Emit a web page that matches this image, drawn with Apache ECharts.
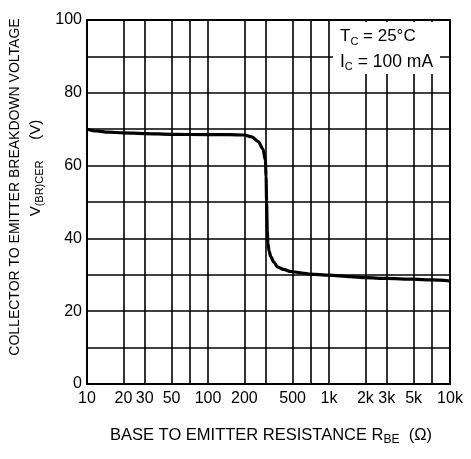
<!DOCTYPE html>
<html>
<head>
<meta charset="utf-8">
<script src="https://cdn.jsdelivr.net/npm/echarts@6/dist/echarts.min.js"></script>
<style>
  html, body { margin: 0; padding: 0; background: #fff; }
  #chart { width: 471px; height: 459px; }
</style>
</head>
<body>
<div id="chart"></div>
<script>
// base-emitter resistance (ohm) and breakdown voltage (V)
const resistance = [10, 12, 15, 20, 30, 50, 100, 150, 200, 230, 260, 285, 298, 302, 305, 309, 313, 320, 330, 350, 375, 420, 485, 600, 700, 1000, 1500, 2000, 3000, 5000, 7000, 10000]
const voltage = [70.0, 69.5, 69.2, 69.0, 68.8, 68.6, 68.5, 68.5, 68.4, 67.9, 66.6, 64.5, 61.5, 57, 50, 42, 38.6, 36.5, 35, 33.5, 32.2, 31.5, 30.9, 30.5, 30.2, 29.9, 29.5, 29.2, 29.0, 28.8, 28.6, 28.3]

// x grid lines and labels
const xGridValues = [10, 20, 30, 50, 70, 100, 200, 300, 500, 700, 1000, 2000, 3000, 5000, 7000, 10000]
const xLabelValues = [10, 20, 30, 50, 100, 200, 500, 1000, 2000, 3000, 5000, 10000]
const yLabelValues = [0, 20, 40, 60, 80, 100]

const font = 'Liberation Sans, Arial, Helvetica, sans-serif'

const chart = echarts.init(document.getElementById('chart'))

const points = resistance.map((r, i) => [r, voltage[i]])

let option = {
  animation: false,
  backgroundColor: '#fff',
  grid: {
    left: 87,
    right: 21,
    top: 20,
    bottom: 75,
    show: true,
    borderColor: '#000',
    borderWidth: 2,
  },
  xAxis: {
    type: 'log',
    logBase: 10,
    min: 10,
    max: 10000,
    axisLine: { show: false },
    axisTick: { show: false, customValues: xGridValues },
    splitLine: { show: true, lineStyle: { color: '#000', width: 1.6 } },
    axisLabel: {
      customValues: xLabelValues,
      color: '#000',
      fontFamily: font,
      fontSize: 16,
      margin: 7,
      formatter: (v) => (v >= 1000 ? v / 1000 + 'k' : String(v)),
    },
  },
  yAxis: {
    type: 'value',
    min: 0,
    max: 100,
    interval: 10,
    axisLine: { show: false },
    axisTick: { show: false },
    splitLine: { show: true, lineStyle: { color: '#000', width: 1.6 } },
    axisLabel: {
      color: '#000',
      fontFamily: font,
      fontSize: 16,
      margin: 5,
      formatter: (v) => (yLabelValues.indexOf(v) >= 0 ? String(v) : ''),
    },
  },
  graphic: [
    // box with the test conditions
    {
      type: 'rect',
      z: 100,
      shape: { x: 333, y: 22, width: 107, height: 52 },
      style: { fill: '#fff' },
    },
    {
      type: 'text',
      z: 101,
      left: 340,
      top: 28,
      style: {
        text: '{a|T}{s|C}{a| = 25°C}',
        fill: '#000',
        rich: {
          a: { fontFamily: font, fontSize: 17, lineHeight: 19, verticalAlign: 'top' },
          s: { fontFamily: font, fontSize: 11, verticalAlign: 'bottom' },
        },
      },
    },
    {
      type: 'text',
      z: 101,
      left: 340,
      top: 53,
      style: {
        text: '{a|I}{s|C}{a| = 100 mA}',
        fill: '#000',
        rich: {
          a: { fontFamily: font, fontSize: 17.5, lineHeight: 19, verticalAlign: 'top' },
          s: { fontFamily: font, fontSize: 11, verticalAlign: 'bottom' },
        },
      },
    },
    // y axis title, two lines
    {
      type: 'text',
      x: 15,
      y: 187,
      rotation: Math.PI / 2,
      style: {
        text: 'COLLECTOR TO EMITTER BREAKDOWN VOLTAGE',
        fill: '#000',
        font: '14px ' + font,
        align: 'center',
        verticalAlign: 'middle',
      },
    },
    {
      type: 'text',
      x: 37,
      y: 168,
      rotation: Math.PI / 2,
      style: {
        text: '{a|V}{s|(BR)CER}{a|     (V)}',
        fill: '#000',
        align: 'center',
        verticalAlign: 'middle',
        rich: {
          a: { fontFamily: font, fontSize: 15, lineHeight: 17, verticalAlign: 'top' },
          s: { fontFamily: font, fontSize: 11, verticalAlign: 'bottom' },
        },
      },
    },
    // x axis title
    {
      type: 'text',
      x: 271,
      y: 436,
      style: {
        text: '{a|BASE TO EMITTER RESISTANCE R}{s|BE}{a|  (Ω)}',
        fill: '#000',
        align: 'center',
        verticalAlign: 'middle',
        rich: {
          a: { fontFamily: font, fontSize: 16.5, lineHeight: 19, verticalAlign: 'top' },
          s: { fontFamily: font, fontSize: 12, verticalAlign: 'bottom' },
        },
      },
    },
  ],
  series: [
    {
      type: 'line',
      data: points,
      showSymbol: false,
      smooth: 0.3,
      smoothMonotone: 'x',
      lineStyle: { color: '#000', width: 3.2 },
      z: 5,
    },
  ],
}

chart.setOption(option)
</script>
</body>
</html>
